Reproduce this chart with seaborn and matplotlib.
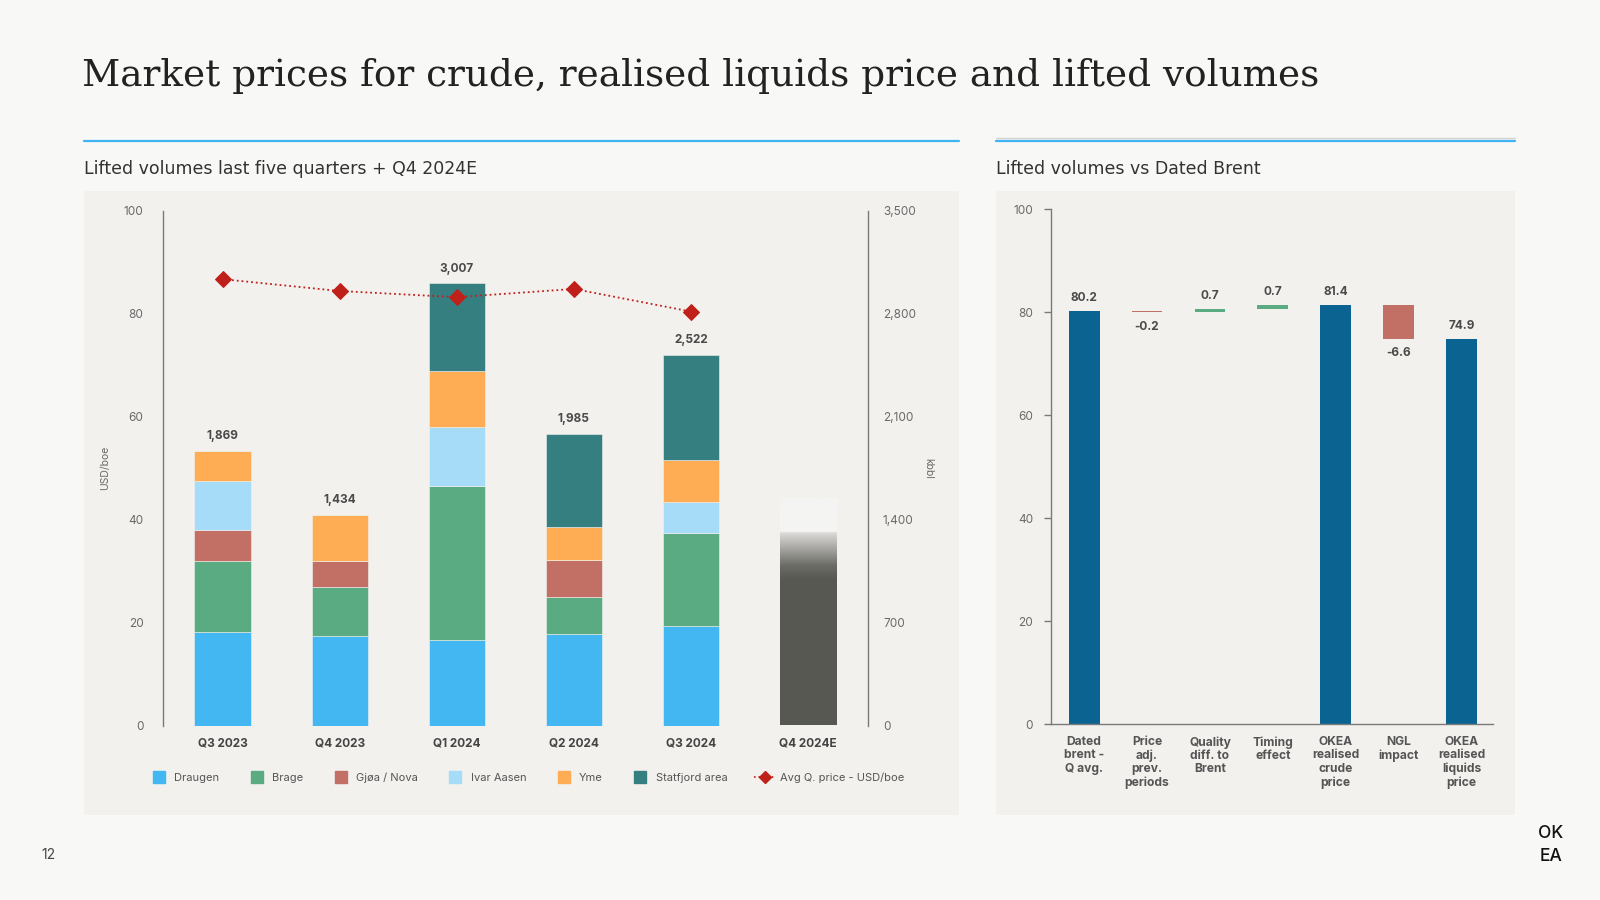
import numpy as np
import pandas as pd
import matplotlib
matplotlib.use("Agg")
import matplotlib.pyplot as plt
import seaborn as sns
from matplotlib.patches import Rectangle
from matplotlib.lines import Line2D
from matplotlib.colors import LinearSegmentedColormap
from matplotlib.ticker import FuncFormatter

# ---------------- data ----------------
quarters = ["Q3 2023", "Q4 2023", "Q1 2024", "Q2 2024", "Q3 2024", "Q4 2024E"]
fields = ["Draugen", "Brage", "Gjøa / Nova", "Ivar Aasen", "Yme", "Statfjord area"]
draugen = [634, 607, 581, 624, 675]
brage = [483, 333, 1050, 248, 636]
gjoa_nova = [212, 177, 0, 253, 0]
ivar_aasen = [334, 0, 397, 0, 207]
yme = [206, 317, 381, 223, 287]
statfjord = [0, 0, 598, 637, 717]
total_labels = ["1,869", "1,434", "3,007", "1,985", "2,522"]
q4_estimate = 1549
avg_price = [86.7, 84.4, 83.2, 84.8, 80.4]
price_label = "Avg Q. price - USD/boe"

wf_labels = ["Dated\nbrent -\nQ avg.", "Price\nadj.\nprev.\nperiods", "Quality\ndiff. to\nBrent",
             "Timing\neffect", "OKEA\nrealised\ncrude\nprice", "NGL\nimpact",
             "OKEA\nrealised\nliquids\nprice"]
wf_values = [80.2, -0.2, 0.7, 0.7, 81.4, -6.6, 74.9]
wf_is_total = [True, False, False, False, True, False, True]

left_ticks = [0, 20, 40, 60, 80, 100]
right_ticks = [0, 700, 1400, 2100, 2800, 3500]

# ---------------- style ----------------
sns.set_theme(style="white")
SANS = ["Inter", "DejaVu Sans"]
plt.rcParams["font.family"] = SANS

FIG_BG = "#f8f8f7"
PANEL_BG = "#f2f1ee"
field_colors = ["#42b7f2", "#5aab82", "#c27066", "#a6dcf7", "#ffad55", "#367f81"]
price_color = "#c0201a"
q4_color = "#575852"
wf_total_c, wf_pos_c, wf_neg_c = "#0a6391", "#5aab82", "#c27066"
tick_c = "#6a6a6a"
label_c = "#444444"

W, H = 1600, 900
fig = plt.figure(figsize=(16, 9), dpi=100, facecolor=FIG_BG)

def fx(px):
    return px / W

def fy(py):
    return 1 - py / H

# panels
fig.add_artist(Rectangle((fx(84), fy(815)), fx(959) - fx(84), fy(191) - fy(815),
                         transform=fig.transFigure, facecolor=PANEL_BG, edgecolor="none", zorder=0))
fig.add_artist(Rectangle((fx(996), fy(815)), fx(1515) - fx(996), fy(191) - fy(815),
                         transform=fig.transFigure, facecolor=PANEL_BG, edgecolor="none", zorder=0))
# header lines
fig.add_artist(Line2D([fx(84), fx(959)], [fy(141), fy(141)], transform=fig.transFigure,
                      color="#3fb4f0", lw=1.6))
fig.add_artist(Line2D([fx(996), fx(1515)], [fy(138), fy(138)], transform=fig.transFigure,
                      color="#d4d3d0", lw=1.0))
fig.add_artist(Line2D([fx(996), fx(1515)], [fy(141), fy(141)], transform=fig.transFigure,
                      color="#3fb4f0", lw=1.6))

# titles
fig.text(fx(82), fy(86), "Market prices for crude, realised liquids price and lifted volumes",
         family="DejaVu Serif", fontsize=26.9, color="#222222", va="baseline", ha="left")
fig.text(fx(84), fy(174), "Lifted volumes last five quarters + Q4 2024E",
         family="DejaVu Sans", fontsize=12.5, color="#333333", va="baseline", ha="left")
fig.text(fx(996), fy(174), "Lifted volumes vs Dated Brent",
         family="DejaVu Sans", fontsize=12.5, color="#333333", va="baseline", ha="left")

# ---------------- left chart ----------------
ax = fig.add_axes([fx(163), fy(725.5), fx(867.7) - fx(163), fy(210.7) - fy(725.5)])
ax2 = ax.twinx()
ax.set_zorder(3)
ax.patch.set_visible(False)
ax2.patch.set_visible(False)

n_hist = len(total_labels)
xpos = np.arange(n_hist)
bw = 0.48
series = [draugen, brage, gjoa_nova, ivar_aasen, yme, statfjord]
bottom = np.zeros(n_hist)
for vals, c in zip(series, field_colors):
    v = np.array(vals, dtype=float)
    ax2.bar(xpos, v, bottom=bottom, width=bw, color=c, edgecolor=PANEL_BG, linewidth=0.4, zorder=2)
    bottom += v

for x, top, lab in zip(xpos, bottom, total_labels):
    ax2.annotate(lab, (x, top), xytext=(0, 6), textcoords="offset points", ha="center",
                 va="bottom", fontsize=8.5, fontweight="bold", color="#4a4a4a")

# Q4 2024E estimate: faded bar
q4_x = len(quarters) - 1
q4_bar = ax2.bar(q4_x, q4_estimate, width=bw, color="none", linewidth=0, zorder=2)[0]
fade = LinearSegmentedColormap.from_list(
    "fade", [(0, q4_color), (0.64, q4_color), (0.70, "#6c6c67"), (0.845, "#dcdbd8"),
             (0.85, "#f4f4f3"), (1, "#f4f4f3")])
grad = np.linspace(0, 1, 256).reshape(-1, 1)
im = ax2.imshow(grad, extent=[q4_x - bw / 2, q4_x + bw / 2, 0, q4_estimate], origin="lower",
                aspect="auto", cmap=fade, zorder=2)
im.set_clip_path(q4_bar)

# price line
price_df = pd.DataFrame({"x": xpos, "price": avg_price})
sns.lineplot(data=price_df, x="x", y="price", ax=ax, color=price_color, linestyle=":",
             linewidth=1.3, marker="D", markersize=8, markeredgecolor=price_color, zorder=5)

ax.set_xlim(-0.508, len(quarters) - 1 + 0.508)
ax2.set_xlim(-0.508, len(quarters) - 1 + 0.508)
ax.set_ylim(0, 100)
ax2.set_ylim(0, 3500)
ax.set_yticks(left_ticks)
ax2.set_yticks(right_ticks)
ax2.yaxis.set_major_formatter(FuncFormatter(lambda v, p: f"{int(v):,}"))
ax.set_xticks(range(len(quarters)))
ax.set_xticklabels(quarters, fontsize=8.5, fontweight="bold", color=label_c)
ax.set_xlabel("")
ax.tick_params(axis="x", length=0, pad=8.5)
ax.tick_params(axis="y", length=0, pad=14, labelsize=8.5, labelcolor=tick_c)
ax2.tick_params(axis="y", length=0, pad=11, labelsize=8.5, labelcolor=tick_c)
ax.set_ylabel("USD/boe", fontsize=7.5, color=tick_c)
ax.yaxis.set_label_coords(-0.075, 0.5)
ax2.set_ylabel("kbbl", fontsize=7.5, color=tick_c, rotation=270)
ax2.yaxis.set_label_coords(1.0927, 0.5)
for a in (ax, ax2):
    for s in a.spines.values():
        s.set_visible(False)
ax.spines["left"].set_visible(True)
ax.spines["left"].set_color("#7a7a7a")
ax.spines["left"].set_linewidth(1.0)
ax2.spines["right"].set_visible(True)
ax2.spines["right"].set_color("#7a7a7a")
ax2.spines["right"].set_linewidth(1.0)

handles = [Line2D([], [], marker="s", linestyle="none", markersize=8, color=c,
                  markeredgecolor=c) for c in field_colors]
handles.append(Line2D([], [], marker="D", linestyle=":", markersize=6, color=price_color,
                      linewidth=1.2))
fig.legend(handles, fields + [price_label], loc="center", bbox_to_anchor=(fx(526), fy(777.5)),
           ncol=7, frameon=False, fontsize=8, labelcolor="#555555", handlelength=2.0,
           handletextpad=0.4, columnspacing=2.35)

# ---------------- right chart (waterfall) ----------------
bx = fig.add_axes([fx(1051), fy(724.3), fx(1493) - fx(1051), fy(209.3) - fy(724.3)])
bx.patch.set_visible(False)
running = 0.0
bottoms, heights, colors = [], [], []
for v, tot in zip(wf_values, wf_is_total):
    if tot:
        bottoms.append(0.0)
        heights.append(v)
        colors.append(wf_total_c)
        running = v
    else:
        bottoms.append(running if v > 0 else running + v)
        heights.append(abs(v))
        colors.append(wf_pos_c if v > 0 else wf_neg_c)
        running += v
wx = np.arange(len(wf_values))
bx.bar(wx, heights, bottom=bottoms, width=0.49, color=colors, linewidth=0, zorder=2)
for x, v, b, h in zip(wx, wf_values, bottoms, heights):
    if v >= 0:
        bx.annotate(f"{v:.1f}", (x, b + h), xytext=(0, 5), textcoords="offset points",
                    ha="center", va="bottom", fontsize=8.5, fontweight="bold", color="#4a4a4a")
    else:
        bx.annotate(f"{v:.1f}", (x, b), xytext=(0, -6), textcoords="offset points",
                    ha="center", va="top", fontsize=8.5, fontweight="bold", color="#4a4a4a")
bx.set_xlim(-0.527, len(wf_values) - 1 + 0.5)
bx.set_ylim(0, 100)
bx.set_yticks(left_ticks)
bx.set_xticks(wx)
bx.set_xticklabels(wf_labels, fontsize=8.7, fontweight="bold", color="#555555", linespacing=1.15)
bx.tick_params(axis="x", length=0, pad=8.5)
bx.tick_params(axis="y", length=5, width=1.0, color="#7a7a7a", pad=8, labelsize=8.5,
               labelcolor=tick_c, left=True)
for s in ["top", "right"]:
    bx.spines[s].set_visible(False)
for s in ["left", "bottom"]:
    bx.spines[s].set_color("#7a7a7a")
    bx.spines[s].set_linewidth(1.0)

# page number and logo
fig.text(fx(41), fy(855), "12", fontsize=10, color="#444444", va="center", ha="left")
fig.text(fx(1551), fy(833.5), "OK", fontsize=12.5, fontweight="medium", color="#111111",
         va="center", ha="center")
fig.text(fx(1551), fy(856.5), "EA", fontsize=12.5, fontweight="medium", color="#111111",
         va="center", ha="center")

fig.savefig("out.png", dpi=100, facecolor=FIG_BG)
